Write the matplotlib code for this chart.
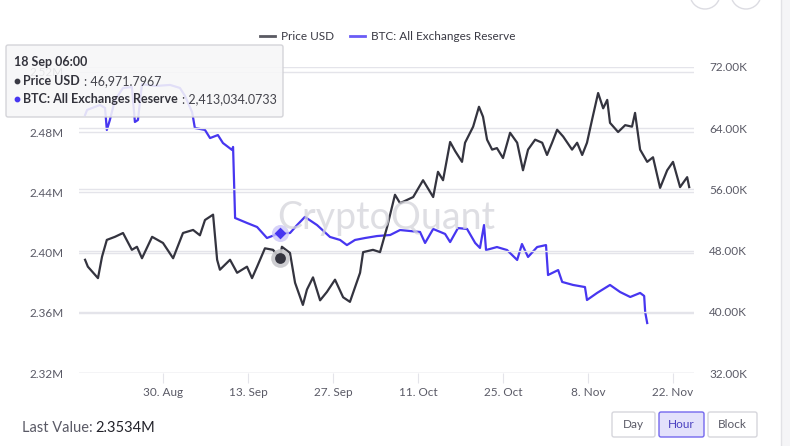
import matplotlib
matplotlib.use("Agg")
import matplotlib.pyplot as plt
from matplotlib.patches import FancyBboxPatch, Circle, Rectangle
import pandas as pd

plt.rcParams['font.family'] = ['Lato', 'DejaVu Sans']

price_dates = ["2021-08-17 04:00", "2021-08-17 15:00", "2021-08-19 07:00", "2021-08-19 23:00",
               "2021-08-20 18:00", "2021-08-22 02:00", "2021-08-23 10:00", "2021-08-24 21:00",
               "2021-08-25 17:00", "2021-08-26 13:00", "2021-08-28 05:00", "2021-08-30 00:00",
               "2021-08-31 16:00", "2021-09-02 07:00", "2021-09-03 23:00", "2021-09-05 02:00",
               "2021-09-05 22:00", "2021-09-07 06:00", "2021-09-07 22:00", "2021-09-08 09:00",
               "2021-09-10 01:00", "2021-09-11 05:00", "2021-09-12 20:00", "2021-09-13 16:00",
               "2021-09-14 12:00", "2021-09-15 19:00", "2021-09-17 03:00", "2021-09-18 06:00",
               "2021-09-18 14:00", "2021-09-19 22:00", "2021-09-20 18:00", "2021-09-22 01:00",
               "2021-09-22 17:00", "2021-09-23 17:00", "2021-09-24 21:00", "2021-09-26 00:00",
               "2021-09-27 08:00", "2021-09-28 16:00", "2021-09-29 19:00", "2021-09-30 15:00",
               "2021-10-01 11:00", "2021-10-01 23:00", "2021-10-03 14:00", "2021-10-04 18:00",
               "2021-10-05 22:00", "2021-10-07 05:00", "2021-10-08 01:00", "2021-10-10 05:00",
               "2021-10-11 20:00", "2021-10-13 12:00", "2021-10-14 07:00", "2021-10-15 03:00",
               "2021-10-16 07:00", "2021-10-17 03:00", "2021-10-18 06:00", "2021-10-18 18:00",
               "2021-10-20 02:00", "2021-10-21 01:00", "2021-10-21 17:00", "2021-10-22 09:00",
               "2021-10-23 05:00", "2021-10-24 00:00", "2021-10-25 00:00", "2021-10-26 04:00",
               "2021-10-27 08:00", "2021-10-28 07:00", "2021-10-29 03:00", "2021-10-30 07:00",
               "2021-10-31 11:00", "2021-11-01 06:00", "2021-11-02 02:00", "2021-11-02 22:00",
               "2021-11-03 22:00", "2021-11-05 09:00", "2021-11-06 05:00", "2021-11-07 01:00",
               "2021-11-07 20:00", "2021-11-08 16:00", "2021-11-09 16:00", "2021-11-10 12:00",
               "2021-11-11 04:00", "2021-11-11 15:00", "2021-11-12 23:00", "2021-11-14 03:00",
               "2021-11-15 06:00", "2021-11-15 18:00", "2021-11-16 14:00", "2021-11-17 18:00",
               "2021-11-18 17:00", "2021-11-19 21:00", "2021-11-21 01:00", "2021-11-22 00:00",
               "2021-11-23 04:00", "2021-11-24 08:00", "2021-11-24 16:00"]
price_usd = [46800, 45900, 44400, 47200, 49400, 49800, 50300, 48100, 48500, 47000,
             49800, 49000, 47000, 50300, 50700, 50000, 52000, 52700, 46800, 45500,
             46800, 45100, 45900, 44400, 45900, 48300, 48100, 46972, 48500, 47700,
             43800, 40900, 42900, 44500, 41500, 42600, 44200, 41900, 41300, 43200,
             45100, 47800, 48100, 47800, 51100, 55300, 54200, 55000, 57200, 55000,
             58300, 57200, 62200, 61000, 59600, 62100, 64200, 66800, 65500, 62500,
             61200, 61400, 60100, 63400, 62100, 58500, 61200, 62500, 62100, 60500,
             62100, 63800, 62900, 61200, 62100, 60500, 62100, 65100, 68600, 66600,
             67700, 64700, 63500, 64400, 64200, 66000, 61200, 59600, 60200, 56200,
             58500, 59600, 56300, 57600, 56300]

reserve_dates = ["2021-08-17 04:00", "2021-08-17 12:00", "2021-08-19 15:00", "2021-08-20 11:00",
                 "2021-08-20 18:00", "2021-08-21 06:00", "2021-08-22 02:00", "2021-08-23 10:00",
                 "2021-08-24 21:00", "2021-08-25 09:00", "2021-08-25 21:00", "2021-08-26 13:00",
                 "2021-08-28 16:00", "2021-08-31 04:00", "2021-09-01 19:00", "2021-09-02 15:00",
                 "2021-09-03 19:00", "2021-09-04 06:00", "2021-09-05 22:00", "2021-09-06 18:00",
                 "2021-09-08 01:00", "2021-09-08 21:00", "2021-09-10 09:00", "2021-09-10 13:00",
                 "2021-09-10 21:00", "2021-09-12 20:00", "2021-09-14 12:00", "2021-09-16 03:00",
                 "2021-09-18 06:00", "2021-09-19 22:00", "2021-09-21 02:00", "2021-09-22 09:00",
                 "2021-09-24 09:00", "2021-09-26 12:00", "2021-09-28 04:00", "2021-09-29 07:00",
                 "2021-09-30 15:00", "2021-10-02 07:00", "2021-10-04 06:00", "2021-10-06 10:00",
                 "2021-10-08 01:00", "2021-10-11 08:00", "2021-10-12 04:00", "2021-10-13 12:00",
                 "2021-10-15 11:00", "2021-10-16 07:00", "2021-10-17 14:00", "2021-10-19 02:00",
                 "2021-10-20 10:00", "2021-10-21 05:00", "2021-10-21 21:00", "2021-10-22 05:00",
                 "2021-10-24 00:00", "2021-10-25 16:00", "2021-10-27 08:00", "2021-10-28 03:00",
                 "2021-10-29 03:00", "2021-10-30 15:00", "2021-11-01 02:00", "2021-11-01 10:00",
                 "2021-11-03 02:00", "2021-11-03 18:00", "2021-11-05 13:00", "2021-11-07 12:00",
                 "2021-11-07 20:00", "2021-11-09 12:00", "2021-11-11 15:00", "2021-11-13 07:00",
                 "2021-11-14 23:00", "2021-11-16 14:00", "2021-11-17 06:00", "2021-11-17 10:00",
                 "2021-11-17 18:00"]
reserve_btc = [2.4914, 2.4948, 2.4981, 2.4961, 2.4815, 2.4881, 2.5014, 2.5094, 2.5100, 2.4868,
               2.4881, 2.5120, 2.5107, 2.5114, 2.5094, 2.5041, 2.4934, 2.4828, 2.4815, 2.4761,
               2.4781, 2.4728, 2.4682, 2.4702, 2.4230, 2.4197, 2.4170, 2.4097, 2.4130, 2.4130,
               2.4183, 2.4237, 2.4183, 2.4104, 2.4084, 2.4050, 2.4084, 2.4097, 2.4110, 2.4117,
               2.4150, 2.4137, 2.4064, 2.4157, 2.4124, 2.4070, 2.4163, 2.4157, 2.4064, 2.4031,
               2.4183, 2.4017, 2.4037, 2.4017, 2.3951, 2.4057, 2.3971, 2.4037, 2.4050, 2.3851,
               2.3884, 2.3805, 2.3785, 2.3771, 2.3685, 2.3732, 2.3785, 2.3738, 2.3705, 2.3732,
               2.3712, 2.3605, 2.3532]

tick_dates = ["2021-08-30", "2021-09-13", "2021-09-27", "2021-10-11",
              "2021-10-25", "2021-11-08", "2021-11-22"]
hover_date = "2021-09-18 06:00"
hover_price = 46971.7967
hover_reserve = 2413034.0733
last_value = "2.3534M"

px = pd.to_datetime(price_dates)
rx = pd.to_datetime(reserve_dates)
ticks = pd.to_datetime(tick_dates)
hx = pd.Timestamp(hover_date)

c_price = '#34343f'
c_res = '#4736f0'
c_grid = '#e4e4ea'
c_lab = '#5a5a66'

#%% axes
fig = plt.figure(figsize=(7.9, 4.46), dpi=100)
fig.patch.set_facecolor('white')
ax = fig.add_axes([79/790, 1-373/446, 615/790, 306/446])
ax2 = ax.twinx()

ax.plot(rx, [v*1e6 for v in reserve_btc], color=c_res, lw=1.6, zorder=3)
ax2.plot(px, price_usd, color=c_price, lw=1.6, zorder=3)

ax.set_ylim(2.32e6, 2.32e6 + 306/1505*1e6)
ax2.set_ylim(32000, 72000)
ax.set_yticks([2.32e6, 2.36e6, 2.40e6, 2.44e6, 2.48e6, 2.52e6])
ax.set_yticklabels(['2.32M', '2.36M', '2.40M', '2.44M', '2.48M', '2.52M'])
ax2.set_yticks([32000, 40000, 48000, 56000, 64000, 72000])
ax2.set_yticklabels(['32.00K', '40.00K', '48.00K', '56.00K', '64.00K', '72.00K'])
ax.set_xlim(pd.Timestamp("2021-08-16 04:00"), pd.Timestamp("2021-11-25 11:00"))

ax.set_xticks(ticks)
ax.set_xticklabels([f"{t.day}. {t.strftime('%b')}" for t in ticks])

for a in (ax, ax2):
    a.grid(axis='y', color=c_grid, lw=1)
    a.set_axisbelow(True)
    for s in a.spines.values():
        s.set_visible(False)
ax.tick_params(axis='y', length=0, pad=11, labelsize=8.5, labelcolor=c_lab)
ax2.tick_params(axis='y', length=0, pad=11, labelsize=8.5, labelcolor=c_lab)
ax.tick_params(axis='x', length=7, color=c_grid, pad=3, labelsize=8.5, labelcolor=c_lab)
ax2.set_zorder(ax.get_zorder() + 1)
ax2.patch.set_visible(False)

# hover markers
ax.scatter([hx], [hover_reserve], s=150, color='#cdc8f8', alpha=0.8, zorder=4, lw=0)
ax.scatter([hx], [hover_reserve], s=36, marker='D', color=c_res, zorder=5, lw=0)
ax2.scatter([hx], [hover_price], s=180, color='#c8c8cc', alpha=0.9, zorder=4, lw=0)
ax2.scatter([hx], [hover_price], s=60, color=c_price, zorder=5, lw=0)

#%% overlay: legend, tooltip, watermark, buttons
ov = fig.add_axes([0, 0, 1, 1], zorder=10)
ov.set_xlim(0, 790)
ov.set_ylim(446, 0)
ov.axis('off')
rend = fig.canvas.get_renderer()


def after(t, gap=2):
    # x (overlay pixels) just right of a drawn text
    bb = t.get_window_extent(renderer=rend)
    return bb.x1 + gap


ov.text(386, 218, 'CryptoQuant', fontsize=27, color='#d4d4da', alpha=0.75,
        ha='center', va='center', zorder=1)

ov.plot([260, 275], [36, 36], color='#5a5a62', lw=2)
ov.text(281, 36, 'Price USD', fontsize=8.5, color='#3a3a44', va='center')
ov.plot([350, 365], [36, 36], color='#6a5cf6', lw=2)
ov.text(371, 36, 'BTC: All Exchanges Reserve', fontsize=8.5, color='#3a3a44', va='center')

ov.add_patch(FancyBboxPatch((6, 45), 277, 72, boxstyle='round,pad=0,rounding_size=2',
                            facecolor='#f7f7f8', edgecolor='#cfcfd4', alpha=0.88, lw=1, zorder=5))
ov.text(14, 62, '18 Sep 06:00', fontsize=9, color='#33333c', fontweight='bold', va='center', zorder=6)
ov.scatter([17], [81], s=10, color='#3a3a44', zorder=6)
t1 = ov.text(23, 81, 'Price USD', fontsize=9, color='#33333c', fontweight='bold', va='center', zorder=6)
ov.text(after(t1, 4), 81, f": {hover_price:,.4f}", fontsize=9, color='#44444c', va='center', zorder=6)
ov.scatter([17], [99], s=10, color=c_res, zorder=6)
t2 = ov.text(23, 99, 'BTC: All Exchanges Reserve', fontsize=9, color='#33333c', fontweight='bold',
             va='center', zorder=6)
ov.text(after(t2, 4), 99, f": {hover_reserve:,.4f}", fontsize=9, color='#44444c', va='center', zorder=6)

t3 = ov.text(22, 428, 'Last Value:', fontsize=10.5, color='#5a5a66', va='center')
ov.text(after(t3, 3), 428, last_value, fontsize=10.5, color='#22222a', va='center')

buttons = [('Day', 612, 655), ('Hour', 659, 704), ('Block', 708, 757)]
for name, x0, x1 in buttons:
    on = name == 'Hour'
    ov.add_patch(FancyBboxPatch((x0, 412), x1 - x0, 25, boxstyle='round,pad=0,rounding_size=2',
                                facecolor='#e3e1fb' if on else 'white',
                                edgecolor='#7468ee' if on else '#d6d6dc', lw=1))
    ov.text((x0 + x1) / 2, 424.5, name, fontsize=8.5, ha='center', va='center',
            color='#4a40c0' if on else '#5a5a66')

ov.add_patch(Circle((705, -6), 15, facecolor='white', edgecolor='#dcdce2', lw=1))
ov.add_patch(Circle((746, -6), 15, facecolor='white', edgecolor='#dcdce2', lw=1))
ov.add_patch(Rectangle((781, 0), 10, 446, facecolor='#f5f5f7', edgecolor='none'))
ov.plot([781, 781], [0, 446], color='#e2e2e6', lw=1)

fig.savefig('out.png', dpi=100)
